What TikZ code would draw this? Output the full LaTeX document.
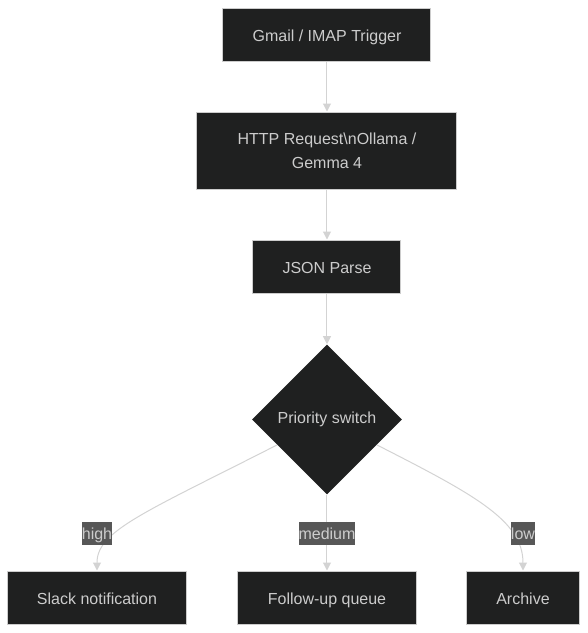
\documentclass[tikz,border=0pt]{standalone}
\usepackage{fontspec}
\setmainfont{Liberation Sans}
\usetikzlibrary{positioning, shapes.geometric, arrows.meta}

\definecolor{boxfill}{HTML}{1F2020}
\definecolor{boxline}{HTML}{CCCCCC}
\definecolor{boxtext}{HTML}{CCCCCC}
\definecolor{wire}{HTML}{D3D3D3}
\definecolor{tagfill}{HTML}{575757}

\begin{document}
\begin{tikzpicture}[on grid, node distance=87pt,
    >={Triangle[width=6pt, length=6pt]},
    every node/.style={font=\fontsize{12pt}{18pt}\selectfont, text=boxtext},
    every edge/.style={draw=wire, line width=0.75pt},
    proc/.style={rectangle, draw=boxline, line width=0.75pt, fill=boxfill,
                 minimum height=39.75pt, text height=10.5pt, text depth=0.5pt, align=center},
    decision/.style={diamond, fill=boxfill, minimum width=112.5pt,
                     minimum height=112.5pt, inner sep=0pt},
    tag/.style={fill=tagfill, inner xsep=0pt, inner ysep=0pt, minimum height=17.25pt,
                text height=10pt, text depth=1pt}]
   \useasboundingbox (-245.25pt,25.875pt) rectangle (195.75pt,-448.875pt);

   \node[proc, minimum width=156pt] (gmail) {Gmail / IMAP Trigger};
   \node[proc, minimum width=195pt, minimum height=57.75pt, text height=, text depth=] (http) [below=of gmail]
        {HTTP Request\textbackslash nOllama /\\Gemma 4};
   \node[proc, minimum width=111pt] (json) [below=of http] {JSON Parse};
   \node[decision] (prio) [below=114.75pt of json] {Priority switch};
   \node[proc, minimum width=134.25pt] (follow) [below=133.5pt of prio] {Follow-up queue};
   \node[proc, minimum width=134.25pt] (slack) [left=172.5pt of follow] {Slack notification};
   \node[proc, minimum width=84.75pt] (archive) [right=147pt of follow] {Archive};

    \path[->]
    (gmail) edge (http)
    (http) edge (json)
    (json) edge (prio)
    (prio) edge [out=-153, in=90, out looseness=1.74, in looseness=0.46] (slack)
           edge (follow)
           edge [out=-27, in=90, out looseness=1.45, in looseness=0.66] (archive);

   % edge labels on top of the wires
   \node[tag] (lhigh) [above=48pt of slack] {high};
   \node[tag] (lmedium) [above=48pt of follow] {medium};
   \node[tag] (llow) [above=48pt of archive] {low};
\end{tikzpicture}
\end{document}
